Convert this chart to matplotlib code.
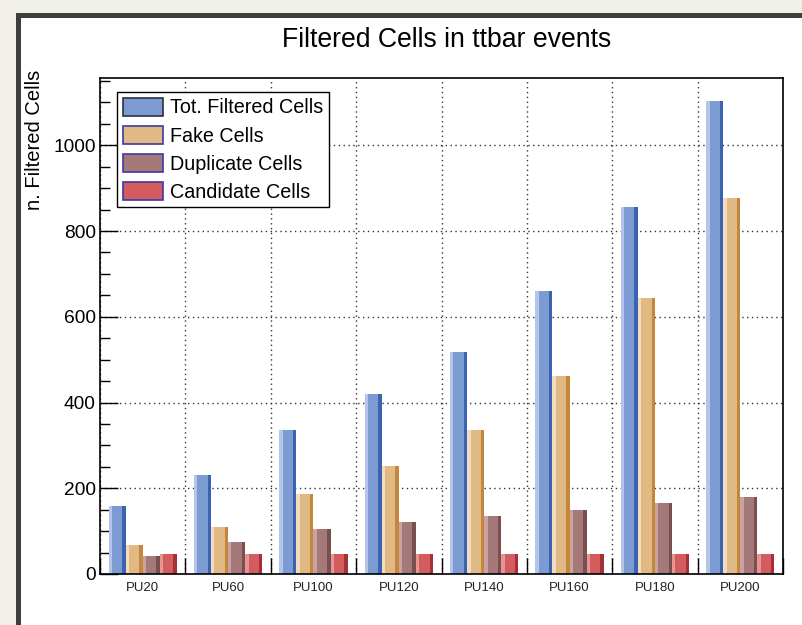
import matplotlib
matplotlib.use('Agg')
import matplotlib.pyplot as plt
from matplotlib.patches import Patch, Rectangle

plt.rcParams['font.family'] = ['Liberation Sans', 'DejaVu Sans']

# values
categories = ['PU20', 'PU60', 'PU100', 'PU120', 'PU140', 'PU160', 'PU180', 'PU200']
tot_filtered = [159, 232, 337, 419, 518, 660, 855, 1103]
fake_cells = [68, 110, 187, 251, 335, 461, 644, 876]
duplicate_cells = [42, 75, 105, 122, 136, 150, 166, 180]
candidate_cells = [47, 47, 47, 47, 47, 47, 47, 47]

series = [
    ('Tot. Filtered Cells', tot_filtered, '#7d9bd3', '#b3c5e9', '#3c63b0', '#303040'),
    ('Fake Cells', fake_cells, '#e0b985', '#f1dcbf', '#c5883a', '#3a3aa8'),
    ('Duplicate Cells', duplicate_cells, '#a67979', '#c9a3a3', '#7a4f4f', '#3a3aa8'),
    ('Candidate Cells', candidate_cells, '#d35c5f', '#e59596', '#a53035', '#3a3aa8'),
]

W, H = 802, 625
fig = plt.figure(figsize=(W / 100, H / 100), dpi=100)
fig.patch.set_facecolor('#f0f0e8')

# ROOT canvas window
fig.patches.append(Rectangle((17.5 / W, -0.1), 1.2, 1 - 14.5 / H + 0.1,
                             transform=fig.transFigure, facecolor='white',
                             edgecolor='#3e3e3e', linewidth=3.6, zorder=-10))

ax = fig.add_axes([100 / W, 1 - 574 / H, (783 - 100) / W, (574 - 78) / H])
ax.set_zorder(2)
ax.set_xlim(0, len(categories))
ax.set_ylim(0, 1157)

bw = 0.2
for j, (name, vals, cmain, clight, cdark, _) in enumerate(series):
    for i, v in enumerate(vals):
        left = i + 0.1 + bw * j
        ax.bar(left, v, width=bw * 0.2, align='edge', color=clight, linewidth=0, zorder=3)
        ax.bar(left + bw * 0.2, v, width=bw * 0.6, align='edge', color=cmain, linewidth=0, zorder=3)
        ax.bar(left + bw * 0.8, v, width=bw * 0.2, align='edge', color=cdark, linewidth=0, zorder=3)

# x axis: labels at bin centres, ticks at bin edges
ax.set_xticks([i + 0.5 for i in range(len(categories))])
ax.set_xticklabels(categories, fontsize=9.5, color='#222222')
ax.tick_params(axis='x', which='major', length=0, pad=6)
ax.set_xticks(range(len(categories) + 1), minor=True)
ax.tick_params(axis='x', which='minor', direction='in', length=11.5, width=1)

ax.set_yticks([0, 200, 400, 600, 800, 1000])
ax.set_yticks(range(0, 1151, 50), minor=True)
ax.tick_params(axis='y', which='major', direction='in', length=13, width=1, labelsize=13.8, pad=3)
ax.tick_params(axis='y', which='minor', direction='in', length=7, width=1)

ax.grid(True, axis='y', which='major', color='#333333', linestyle=(0, (1, 2.5)), linewidth=1, zorder=1)
ax.grid(True, axis='x', which='minor', color='#333333', linestyle=(0, (1, 2.5)), linewidth=1, zorder=1)
for s in ax.spines.values():
    s.set_linewidth(1.2)
    s.set_zorder(4)

handles = [Patch(facecolor=c, edgecolor=ec, linewidth=1.2) for _, _, c, _, _, ec in series]
leg = ax.legend(handles, [s[0] for s in series], loc='upper left',
                bbox_to_anchor=((117 - 100) / (783 - 100), 1 - (92 - 78) / (574 - 78)),
                borderaxespad=0, fontsize=14.2, fancybox=False, framealpha=1,
                edgecolor='black', handlelength=2.05, handleheight=1.05,
                labelspacing=0.42, handletextpad=0.36, borderpad=0.28)
leg.get_frame().set_linewidth(1.0)
leg.set_zorder(5)

fig.text(447 / W, 1 - 40 / H, 'Filtered Cells in ttbar events', ha='center', va='center', fontsize=19.2)
fig.text(35 / W, 1 - 70 / H, 'n. Filtered Cells', ha='center', va='top', rotation=90, fontsize=14.5)

fig.savefig('out.png', dpi=100, facecolor=fig.get_facecolor())
